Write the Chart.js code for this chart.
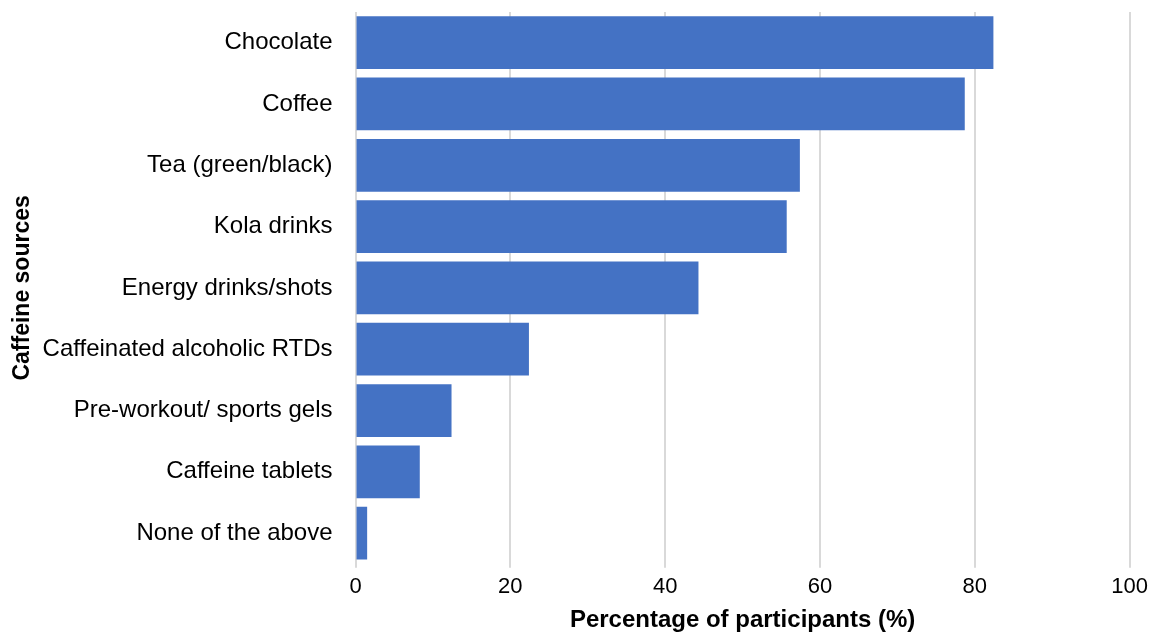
<!DOCTYPE html>
<html>
<head>
<meta charset="utf-8">
<script src="https://cdn.jsdelivr.net/npm/chart.js@4"></script>
<style>
  html, body { margin: 0; padding: 0; background: #fff; }
  #wrap { width: 1154px; height: 635px; }
</style>
</head>
<body>
<div id="wrap"><canvas id="caffeineChart" width="1154" height="635"></canvas></div>
<script>
const fuentes = [
  'Chocolate',
  'Coffee',
  'Tea (green/black)',
  'Kola drinks',
  'Energy drinks/shots',
  'Caffeinated alcoholic RTDs',
  'Pre-workout/ sports gels',
  'Caffeine tablets',
  'None of the above'
];
const porcentajes = [82.4, 78.7, 57.4, 55.7, 44.3, 22.4, 12.4, 8.3, 1.5]; // % de participantes
const ticksX = [0, 20, 40, 60, 80, 100];

const fontFam = '"Liberation Sans", Arial, sans-serif';

const ctx = document.getElementById('caffeineChart').getContext('2d');
new Chart(ctx, {
  type: 'bar',
  data: {
    labels: fuentes,
    datasets: [{
      data: porcentajes,
      backgroundColor: '#4472C4',
      borderWidth: 0,
      categoryPercentage: 1,
      barPercentage: 0.86
    }]
  },
  options: {
    indexAxis: 'y',
    responsive: false,
    animation: false,
    layout: { padding: { top: 12, right: 23, bottom: 0, left: 9 } },
    plugins: {
      legend: { display: false },
      tooltip: { enabled: false }
    },
    scales: {
      x: {
        min: 0,
        max: 100,
        afterBuildTicks: axis => { axis.ticks = ticksX.map(v => ({ value: v })); },
        grid: { color: '#d9d9d9', lineWidth: 2, drawTicks: true, tickLength: 4 },
        border: { display: false },
        ticks: { color: '#000', font: { family: fontFam, size: 22 }, padding: 6 },
        title: {
          display: true,
          text: 'Percentage of participants (%)',
          color: '#000',
          font: { family: fontFam, size: 24, weight: 'bold' },
          padding: { top: 0, bottom: 0 }
        }
      },
      y: {
        // marcas transparentes: solo dan el hueco entre etiquetas y barras
        grid: {
          display: true,
          drawOnChartArea: false,
          drawTicks: true,
          tickLength: 23,
          color: 'rgba(0,0,0,0)',
          tickColor: 'rgba(0,0,0,0)'
        },
        border: { display: false },
        ticks: { color: '#000', font: { family: fontFam, size: 24, lineHeight: 0.8 }, padding: 0 },
        title: {
          display: true,
          text: 'Caffeine sources',
          color: '#000',
          font: { family: fontFam, size: 23, weight: 'bold' },
          padding: { top: 0, bottom: 6 }
        }
      }
    }
  }
});
</script>
</body>
</html>
